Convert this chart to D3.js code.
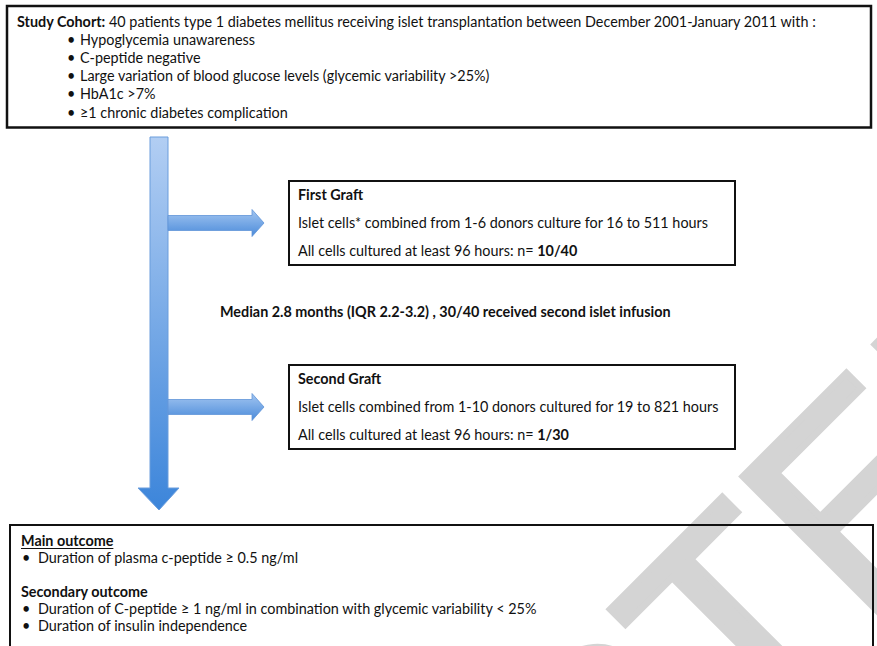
<!DOCTYPE html>
<html>
<head>
<meta charset="utf-8">
<script src="https://cdn.jsdelivr.net/npm/d3@7"></script>
<style>
  body { margin: 0; background: #fff; }
  svg { display: block; }
  text { white-space: pre; }
</style>
</head>
<body>
<div id="vis"></div>
<script>
// text of the flow chart
let cohortLead = 'Study Cohort:'
let cohortText = ' 40 patients type 1 diabetes mellitus receiving islet transplantation between December 2001-January 2011 with :'
let cohortCriteria = [
    'Hypoglycemia unawareness',
    'C-peptide negative',
    'Large variation of blood glucose levels (glycemic variability >25%)',
    'HbA1c >7%',
    '\u22651 chronic diabetes complication'
]

let graftTitles = ['First Graft', 'Second Graft']
let graftDonors = [
    'Islet cells* combined from 1-6 donors culture for 16 to 511 hours',
    'Islet cells combined from 1-10 donors cultured for 19 to 821 hours'
]
let graftCultured = 'All cells cultured at least 96 hours: n= '
let graftCounts = ['10/40', '1/30']
let intervalText = 'Median 2.8 months (IQR 2.2-3.2) , 30/40 received second islet infusion'

let outcomeTitles = ['Main outcome', 'Secondary outcome']
let outcomeItems = [
    ['Duration of plasma c-peptide \u2265 0.5 ng/ml'],
    ['Duration of C-peptide \u2265 1 ng/ml in combination with glycemic variability < 25%',
     'Duration of insulin independence']
]

let watermarkText = 'ACCEPTED'

const W = 877, H = 646

let svg = d3.select('#vis')
    .append('svg')
    .attr('width', W)
    .attr('height', H)
    .attr('font-family', "Lato, 'Open Sans', sans-serif")
    .attr('font-size', 14)
    .attr('fill', '#111')

let defs = svg.append('defs')

let vgrad = defs.append('linearGradient').attr('id', 'vgrad')
    .attr('x1', 0).attr('y1', 0).attr('x2', 0).attr('y2', 1)
vgrad.append('stop').attr('offset', '0%').attr('stop-color', '#b2cef3')
vgrad.append('stop').attr('offset', '100%').attr('stop-color', '#3c85da')

let hgrad = defs.append('linearGradient').attr('id', 'hgrad')
    .attr('x1', 0).attr('y1', 0).attr('x2', 0).attr('y2', 1)
hgrad.append('stop').attr('offset', '0%').attr('stop-color', '#a3c6f1')
hgrad.append('stop').attr('offset', '100%').attr('stop-color', '#4b8bda')

// watermark in the background
let wm = svg.append('g').attr('transform', 'rotate(-45)')
let wmText = wm.append('text')
    .attr('font-family', "'Liberation Sans', Arial, sans-serif")
    .attr('font-size', 280)
    .attr('fill', '#d4d4d4')
    .attr('stroke', '#d4d4d4')
    .attr('stroke-width', 7)
    .attr('x', 0)
    .attr('y', 1055)
    .text(watermarkText)
let tExt = wmText.node().getExtentOfChar(watermarkText.indexOf('T'))
wmText.attr('x', 80 - (tExt.x + tExt.width / 2))

// ---- top box: study cohort
svg.append('rect')
    .attr('x', 7).attr('y', 6)
    .attr('width', 864).attr('height', 121.5)
    .attr('fill', 'none')
    .attr('stroke', '#111')
    .attr('stroke-width', 2.5)

let line1 = svg.append('text').attr('x', 17).attr('y', 27)
line1.append('tspan').attr('font-weight', 'bold').text(cohortLead)
line1.append('tspan').text(cohortText)

// fit the font size so the first line has the width of the original
let fs = 14 * 800 / line1.node().getComputedTextLength()
svg.attr('font-size', fs)

let yCrit = d3.scalePoint()
    .domain(d3.range(cohortCriteria.length))
    .range([44.5, 117.5])

let crit = svg.selectAll('.crit')
    .data(cohortCriteria)
    .join('g')
    .attr('class', 'crit')
crit.append('text')
    .attr('x', 67).attr('y', (d, i) => yCrit(i))
    .text('\u2022')
crit.append('text')
    .attr('x', 80).attr('y', (d, i) => yCrit(i))
    .text(d => d)

// ---- vertical arrow
let ax0 = 150, ax1 = 168, ayTop = 137, ayHead = 488, ayTip = 510
let vArrow = d3.path()
vArrow.moveTo(ax0, ayTop)
vArrow.lineTo(ax1, ayTop)
vArrow.lineTo(ax1, ayHead)
vArrow.lineTo(179, ayHead)
vArrow.lineTo((ax0 + ax1) / 2, ayTip)
vArrow.lineTo(138, ayHead)
vArrow.lineTo(ax0, ayHead)
vArrow.closePath()
svg.append('path')
    .attr('d', vArrow.toString())
    .attr('fill', 'url(#vgrad)')
    .attr('stroke', '#6b9ddc')
    .attr('stroke-width', 1)

// ---- graft boxes
let yGraft = d3.scalePoint()
    .domain(graftTitles)
    .range([181, 365])

let boxX = 289, boxW = 446, boxH = 84

let graft = svg.selectAll('.graft')
    .data(graftTitles)
    .join('g')
    .attr('class', 'graft')
    .attr('transform', d => `translate(0,${yGraft(d)})`)

graft.append('rect')
    .attr('x', boxX).attr('y', 0)
    .attr('width', boxW).attr('height', boxH)
    .attr('fill', 'none')
    .attr('stroke', '#111')
    .attr('stroke-width', 2)

graft.append('text')
    .attr('x', boxX + 9).attr('y', 19)
    .attr('font-weight', 'bold')
    .text(d => d)
graft.append('text')
    .attr('x', boxX + 9).attr('y', 47)
    .text((d, i) => graftDonors[i])
let cult = graft.append('text')
    .attr('x', boxX + 9).attr('y', 75)
cult.append('tspan').text(graftCultured)
cult.append('tspan').attr('font-weight', 'bold').text((d, i) => graftCounts[i])

// side arrows pointing at each graft box
graft.append('path')
    .attr('d', () => {
        let p = d3.path(), c = 42
        p.moveTo(ax1, c - 7.5)
        p.lineTo(252, c - 7.5)
        p.lineTo(252, c - 13.5)
        p.lineTo(264, c)
        p.lineTo(252, c + 13.5)
        p.lineTo(252, c + 7.5)
        p.lineTo(ax1, c + 7.5)
        p.closePath()
        return p.toString()
    })
    .attr('fill', 'url(#hgrad)')
    .attr('stroke', '#5f94d8')
    .attr('stroke-width', 0.8)

svg.append('text')
    .attr('x', 220).attr('y', 317)
    .attr('font-weight', 'bold')
    .text(intervalText)

// ---- bottom box: outcomes
svg.append('rect')
    .attr('x', 10).attr('y', 525)
    .attr('width', 863).attr('height', 150)
    .attr('fill', 'none')
    .attr('stroke', '#111')
    .attr('stroke-width', 2)

let outRows = []
let yTitle = [546, 597]
outcomeTitles.forEach((t, i) => {
    outRows.push({ kind: 'title', text: t, y: yTitle[i] })
    outcomeItems[i].forEach((s, j) => outRows.push({ kind: 'item', text: s, y: yTitle[i] + 17 + j * 17 }))
})

let out = svg.selectAll('.out')
    .data(outRows)
    .join('g')
    .attr('class', 'out')

out.filter(d => d.kind === 'title')
    .append('text')
    .attr('x', 21).attr('y', d => d.y)
    .attr('font-weight', 'bold')
    .text(d => d.text)

out.filter(d => d.kind === 'item')
    .append('text')
    .attr('x', 22).attr('y', d => d.y)
    .text('\u2022')
out.filter(d => d.kind === 'item')
    .append('text')
    .attr('x', 38).attr('y', d => d.y)
    .text(d => d.text)

// underline the main outcome heading
let mainTitle = out.filter((d, i) => i === 0).select('text').node()
svg.append('line')
    .attr('x1', 21).attr('x2', 21 + mainTitle.getComputedTextLength())
    .attr('y1', yTitle[0] + 2.5).attr('y2', yTitle[0] + 2.5)
    .attr('stroke', '#111')
    .attr('stroke-width', 1)
</script>
</body>
</html>
